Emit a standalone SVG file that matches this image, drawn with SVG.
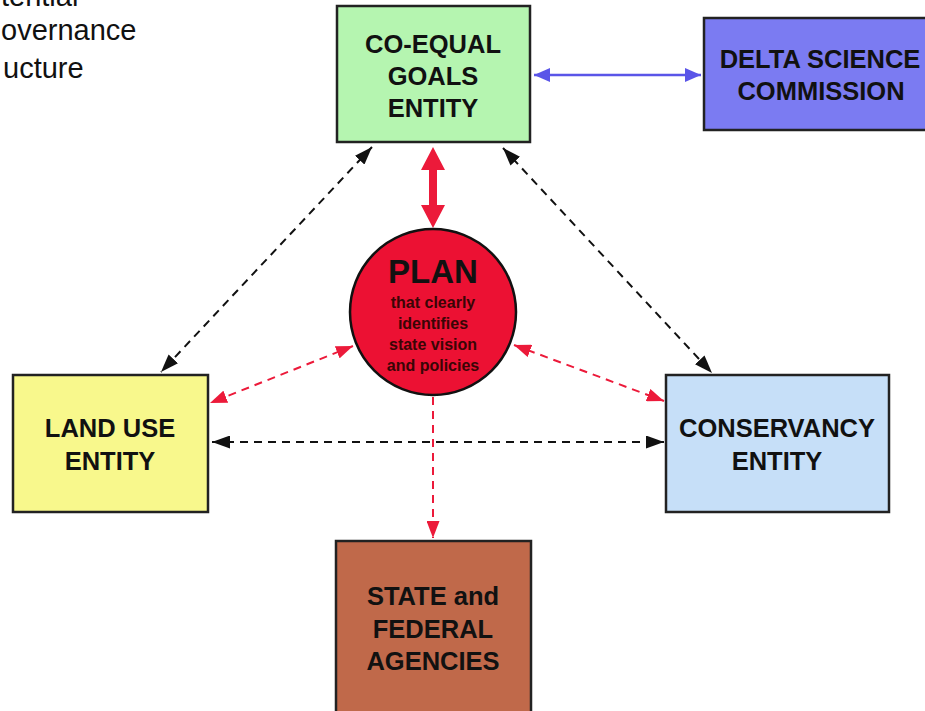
<svg xmlns="http://www.w3.org/2000/svg" width="925" height="711" viewBox="0 0 925 711">
<defs>
<style>
.box{stroke:#222;stroke-width:2.5}
.lbl{font-family:"Liberation Sans",Arial,sans-serif;font-weight:bold;font-size:25.5px;fill:#111;text-anchor:middle}
.title{font-family:"Liberation Sans",Arial,sans-serif;font-size:29px;fill:#111}
.bd{stroke:#111;stroke-width:2;stroke-dasharray:8 6;fill:none}
.rd{stroke:#ec1a3a;stroke-width:2;stroke-dasharray:8 6;fill:none}
.bl{stroke:#5a55e8;stroke-width:2.5;fill:none}
</style>
<marker id="ab" viewBox="0 0 18 13" refX="18" refY="6.5" markerWidth="18" markerHeight="13" markerUnits="userSpaceOnUse" orient="auto-start-reverse"><path d="M0,0 L18,6.5 L0,13 z" fill="#111"/></marker>
<marker id="ar" viewBox="0 0 17 13" refX="17" refY="6.5" markerWidth="17" markerHeight="13" markerUnits="userSpaceOnUse" orient="auto-start-reverse"><path d="M0,0 L17,6.5 L0,13 z" fill="#ec1a3a"/></marker>
<marker id="au" viewBox="0 0 16 14" refX="16" refY="7" markerWidth="16" markerHeight="14" markerUnits="userSpaceOnUse" orient="auto-start-reverse"><path d="M0,0 L16,7 L0,14 z" fill="#5a55e8"/></marker>
</defs>
<rect width="925" height="711" fill="#fff"/>
<g id="title">
<text class="title" x="1" y="6">tential</text>
<text class="title" x="1" y="40">overnance</text>
<text class="title" x="3" y="78">ucture</text>
</g>
<g id="connectors">
<line class="bl" x1="534" y1="75" x2="701" y2="75" marker-start="url(#au)" marker-end="url(#au)"/>
<path d="M433,147 L445,170 L437,170 L437,205 L445,205 L433,228 L421,205 L429,205 L429,170 L421,170 z" fill="#ec1a3a"/>
<line class="bd" x1="372" y1="147" x2="161" y2="372" marker-start="url(#ab)" marker-end="url(#ab)"/>
<line class="bd" x1="503" y1="148" x2="712" y2="373" marker-start="url(#ab)" marker-end="url(#ab)"/>
<line class="bd" x1="212" y1="442" x2="664" y2="442" marker-start="url(#ab)" marker-end="url(#ab)"/>
<line class="rd" x1="353" y1="346" x2="210" y2="403" marker-start="url(#ar)" marker-end="url(#ar)"/>
<line class="rd" x1="514" y1="345" x2="664" y2="401" marker-start="url(#ar)" marker-end="url(#ar)"/>
<line class="rd" x1="433" y1="397" x2="433" y2="538" marker-end="url(#ar)"/>
</g>
<g id="coequal">
<rect class="box" x="337" y="6" width="193" height="136" fill="#b5f5b0"/>
<text class="lbl" x="433" y="53">CO-EQUAL</text>
<text class="lbl" x="433" y="85">GOALS</text>
<text class="lbl" x="433" y="117">ENTITY</text>
</g>
<g id="delta">
<rect class="box" x="704" y="18" width="232" height="112" fill="#7b7bf2"/>
<text class="lbl" x="820" y="68">DELTA SCIENCE</text>
<text class="lbl" x="821" y="100">COMMISSION</text>
</g>
<g id="plan">
<circle cx="433" cy="312" r="83" fill="#ec1133" stroke="#111" stroke-width="2.5"/>
<text x="433" y="283" font-family="Liberation Sans,Arial,sans-serif" font-weight="bold" font-size="33" fill="#111" text-anchor="middle">PLAN</text>
<g font-family="Liberation Sans,Arial,sans-serif" font-weight="bold" font-size="16" fill="#3a0505" text-anchor="middle">
<text x="433" y="308">that clearly</text>
<text x="433" y="329">identifies</text>
<text x="433" y="350">state vision</text>
<text x="433" y="371">and policies</text>
</g>
</g>
<g id="landuse">
<rect class="box" x="13" y="375" width="195" height="137" fill="#f8f88c"/>
<text class="lbl" x="110" y="437">LAND USE</text>
<text class="lbl" x="110" y="470">ENTITY</text>
</g>
<g id="conservancy">
<rect class="box" x="666" y="375" width="223" height="137" fill="#c6dff8"/>
<text class="lbl" x="777" y="437">CONSERVANCY</text>
<text class="lbl" x="777" y="470">ENTITY</text>
</g>
<g id="state">
<rect class="box" x="336" y="541" width="195" height="185" fill="#c0694a"/>
<text class="lbl" x="433" y="605">STATE and</text>
<text class="lbl" x="433" y="638">FEDERAL</text>
<text class="lbl" x="433" y="670">AGENCIES</text>
</g>
</svg>
